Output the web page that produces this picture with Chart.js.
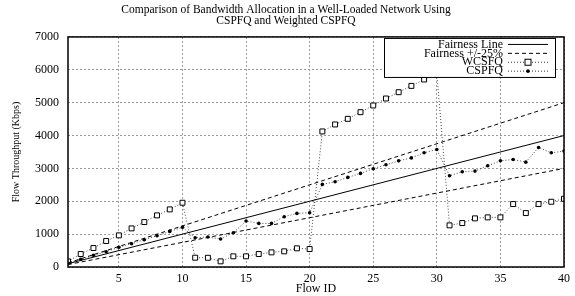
<!DOCTYPE html>
<html>
<head>
<meta charset="UTF-8">
<title>Bandwidth Allocation</title>
<script src="https://cdn.jsdelivr.net/npm/chart.js"></script>
<style>
  html, body { margin: 0; padding: 0; background: #fff; }
  #wrap { width: 575px; height: 296px; }
</style>
</head>
<body>
<div id="wrap"><canvas id="myChart"></canvas></div>
<script>
// flow ids 1..40
const flowIds = [1,2,3,4,5,6,7,8,9,10,11,12,13,14,15,16,17,18,19,20,
                 21,22,23,24,25,26,27,28,29,30,31,32,33,34,35,36,37,38,39,40];
const wcsfq = [170,395,577,790,963,1175,1368,1571,1753,1955,
               283,280,172,325,325,395,446,477,568,547,
               4125,4337,4508,4711,4915,5127,5319,5511,5705,5888,
               1267,1337,1480,1510,1510,1915,1641,1915,1985,2076];
const cspfq = [112,233,355,466,598,709,831,952,1084,1206,
               891,912,851,1043,1398,1327,1327,1530,1631,1651,
               2513,2594,2726,2848,2990,3110,3230,3320,3475,3577,
               2776,2898,2918,3080,3231,3272,3191,3638,3475,3526];
const fairX = [1, 40];
const fairY = [100, 4000];
const fairUp = [125, 5000];
const fairDown = [75, 3000];
const xTicks = [5,10,15,20,25,30,35,40];

const serif = 'Liberation Serif';
const pts = (xs, ys) => xs.map((x, i) => ({x: x, y: ys[i]}));

// gnuplot style frame + legend box
const framePlugin = {
    id: 'frame',
    afterDraw(chart) {
        const ctx = chart.ctx;
        const a = chart.chartArea;
        ctx.save();
        ctx.strokeStyle = '#000';
        ctx.lineWidth = 1.5;
        ctx.strokeRect(a.left, a.top, a.right - a.left, a.bottom - a.top);

        // legend
        const bx = a.right - 9, by = a.top + 1, bw = 171, bh = 39;
        ctx.fillStyle = '#fff';
        ctx.fillRect(bx - bw, by, bw, bh);
        ctx.lineWidth = 1;
        ctx.strokeRect(bx - bw + 0.5, by + 0.5, bw, bh);
        const rows = [
            {t: 'Fairness Line', dash: [], color: '#000', mark: null},
            {t: 'Fairness +/-25%', dash: [4, 3], color: '#000', mark: null},
            {t: 'WCSFQ', dash: [1, 2], color: '#333', mark: 'rect'},
            {t: 'CSPFQ', dash: [1, 2], color: '#333', mark: 'dot'}
        ];
        ctx.font = '12px "' + serif + '"';
        ctx.textAlign = 'right';
        ctx.textBaseline = 'middle';
        rows.forEach((r, i) => {
            const y = by + 6.5 + i * 8.9;
            ctx.fillStyle = '#000';
            ctx.fillText(r.t, bx - 52, y);
            ctx.beginPath();
            ctx.setLineDash(r.dash);
            ctx.strokeStyle = r.color;
            ctx.moveTo(bx - 47, y);
            ctx.lineTo(bx - 7, y);
            ctx.stroke();
            ctx.setLineDash([]);
            const mx = bx - 27;
            if (r.mark === 'rect') {
                ctx.fillStyle = '#fff';
                ctx.fillRect(mx - 3, y - 3, 6, 6);
                ctx.strokeStyle = '#000';
                ctx.strokeRect(mx - 3, y - 3, 6, 6);
            } else if (r.mark === 'dot') {
                ctx.fillStyle = '#000';
                ctx.beginPath();
                ctx.arc(mx, y, 1.8, 0, Math.PI * 2);
                ctx.fill();
            }
        });
        ctx.restore();
    }
};

const ctx = document.getElementById('myChart').getContext('2d');
new Chart(ctx, {
    type: 'line',
    data: {
        datasets: [
            {label: 'Fairness Line', data: pts(fairX, fairY), borderColor: '#000',
             borderWidth: 1, pointRadius: 0},
            {label: 'Fairness +/-25%', data: pts(fairX, fairUp), borderColor: '#000',
             borderWidth: 1, borderDash: [4, 3], pointRadius: 0},
            {label: 'Fairness -25%', data: pts(fairX, fairDown), borderColor: '#000',
             borderWidth: 1, borderDash: [4, 3], pointRadius: 0},
            {label: 'WCSFQ', data: pts(flowIds, wcsfq), borderColor: '#444',
             borderWidth: 1, borderDash: [1, 2], pointStyle: 'rect', pointRadius: 3.5,
             pointBackgroundColor: '#fff', pointBorderColor: '#000', pointBorderWidth: 1},
            {label: 'CSPFQ', data: pts(flowIds, cspfq), borderColor: '#444',
             borderWidth: 1, borderDash: [1, 2], pointStyle: 'circle', pointRadius: 1.8,
             pointBackgroundColor: '#000', pointBorderColor: '#000', pointBorderWidth: 0}
        ]
    },
    options: {
        responsive: true,
        maintainAspectRatio: false,
        animation: false,
        layout: {padding: {left: 0, right: 3, top: 0, bottom: 0}},
        plugins: {
            legend: {display: false},
            tooltip: {enabled: false},
            title: {
                display: true,
                text: ['Comparison of Bandwidth Allocation in a Well-Loaded Network Using',
                       'CSPFQ and Weighted CSPFQ'],
                color: '#000',
                font: {family: serif, size: 11.5, weight: 'normal', lineHeight: 0.95},
                padding: {top: 5, bottom: 10.1}
            }
        },
        scales: {
            x: {
                type: 'linear',
                min: 1, max: 40,
                afterBuildTicks: (s) => { s.ticks = xTicks.map(v => ({value: v})); },
                afterFit: (s) => { s.height = 29; },
                grid: {color: '#9a9a9a', drawTicks: false},
                border: {display: false, dash: [2, 2]},
                ticks: {color: '#000', font: {family: serif, size: 12}, padding: 5, maxRotation: 0},
                title: {display: true, text: 'Flow ID', color: '#000',
                        font: {family: serif, size: 12}, padding: {top: -3, bottom: 0}}
            },
            y: {
                min: 0, max: 7000,
                afterFit: (s) => { s.width = 68; },
                grid: {color: '#9a9a9a', drawTicks: false},
                border: {display: false, dash: [2, 2]},
                ticks: {stepSize: 1000, color: '#000', font: {family: serif, size: 12}, padding: 9,
                        callback: (v) => String(v)},
                title: {display: true, text: 'Flow Throughput (Kbps)', color: '#000',
                        font: {family: serif, size: 10}, padding: {top: 10, bottom: 0}}
            }
        }
    },
    plugins: [framePlugin]
});
</script>
</body>
</html>
